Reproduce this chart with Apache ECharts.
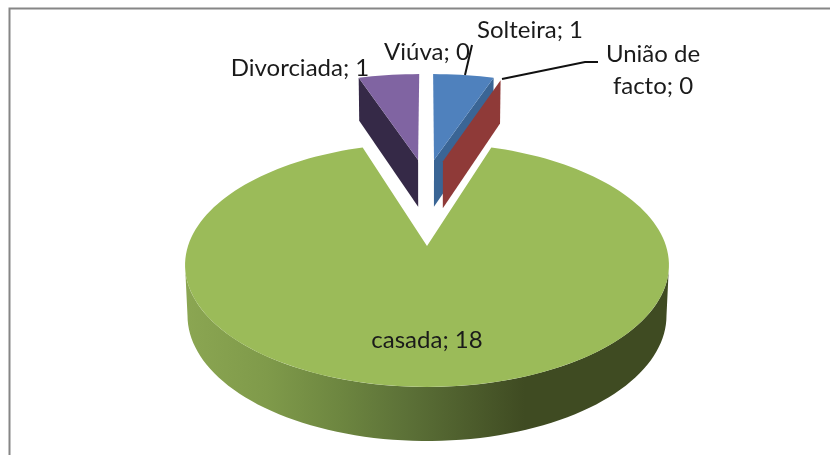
<!DOCTYPE html>
<html>
<head>
<meta charset="utf-8">
<style>
  html, body { margin: 0; padding: 0; background: #fff; }
  #chart { width: 830px; height: 455px; }
</style>
<script src="https://cdn.jsdelivr.net/npm/echarts@6/dist/echarts.min.js"></script>
</head>
<body>
<div id="chart"></div>
<script>
// dados
const categories = ['Viúva', 'Solteira', 'União de\nfacto', 'casada', 'Divorciada'];
const values = [0, 1, 0, 18, 1];
// the pie starts at Solteira, Viúva closes the circle
const drawOrder = [1, 2, 3, 4, 0];

const topColors = { Viúva: '#4bacc6', Solteira: '#4f81bd', 'União de\nfacto': '#c0504d', casada: '#9bbb59', Divorciada: '#8064a2' };
const wallColors = { Viúva: '#2f6b7b', Solteira: '#3a6595', 'União de\nfacto': '#8f3a38', casada: '#6a8040', Divorciada: '#352947' };
// slice apex on the pie plane (unit radius)
const apex = { Viúva: [0.033, 0.814], Solteira: [0.033, 0.814], 'União de\nfacto': [0.075, 0.80], casada: [0, 0], Divorciada: [-0.042, 0.814] };
const sliceRadius = { Viúva: 1.05, Solteira: 1.05, 'União de\nfacto': 1.03, casada: 1, Divorciada: 1.05 };
// label centres
const labelPos = { Viúva: [427, 52], Solteira: [530, 30], 'União de\nfacto': [653, 70], casada: [427, 340], Divorciada: [300, 68] };

// perspective of the pie plane, h = 0 top face, h = 1 bottom face
const cam = { cx: 427, cy: 246, a: 119, b: 239, k: 0.1557, m: 0.03, mx: 0.01, d: 51.5 };
function project(u, v, h) {
  const wy = 1 + cam.k * v + cam.m * h;
  const wx = 1 + cam.k * v + cam.mx * h;
  return [cam.cx + cam.b * u / wx, cam.cy + (-cam.a * v + cam.d * h) / wy];
}
function onRim(name, deg, h) {
  const t = deg * Math.PI / 180, o = apex[name], r = sliceRadius[name];
  return project(o[0] + r * Math.sin(t), o[1] + r * Math.cos(t), h);
}
function arc(name, from, to, h) {
  const pts = [], n = Math.max(1, Math.ceil(Math.abs(to - from) / 2));
  for (let i = 0; i <= n; i++) pts.push(onRim(name, from + (to - from) * i / n, h));
  return pts;
}
function poly(points, fill) {
  return { type: 'polygon', shape: { points }, style: { fill } };
}

const total = values.reduce((s, x) => s + x, 0);
const angles = {};
let acc = 0;
drawOrder.forEach((i) => {
  const start = acc / total * 360;
  acc += values[i];
  angles[categories[i]] = [start, acc / total * 360];
});

function renderSlice(params, api) {
  const name = categories[api.value(0)];
  const [a0, a1] = angles[name];
  const o = apex[name];
  const kids = [];

  // cut faces that look to the front
  const cut = (deg) => {
    kids.push(poly([project(o[0], o[1], 0), onRim(name, deg, 0), onRim(name, deg, 1), project(o[0], o[1], 1)], wallColors[name]));
  };
  if (a0 > 180 && a0 < 360) cut(a0);
  if (a1 > 0 && a1 < 180) cut(a1);

  // outer wall of the big slice, between the two silhouette points
  if (a1 - a0 > 180) {
    const wall = arc(name, 99, 261, 0).concat(arc(name, 261, 99, 1));
    kids.push({
      type: 'polygon',
      shape: { points: wall },
      style: {
        fill: new echarts.graphic.LinearGradient(185, 0, 670, 0, [
          { offset: 0, color: '#8ba652' },
          { offset: 0.17, color: '#7f9a4a' },
          { offset: 0.32, color: '#6d8640' },
          { offset: 0.45, color: '#5d7238' },
          { offset: 0.7, color: '#3f4b22' },
          { offset: 1, color: '#3f4b22' }
        ], true)
      }
    });
  }
  // top face
  if (a1 > a0) {
    kids.push(poly([project(o[0], o[1], 0)].concat(arc(name, a0, a1, 0)), topColors[name]));
  }
  return { type: 'group', children: kids };
}

const chart = echarts.init(document.getElementById('chart'), null, { renderer: 'canvas' });
chart.setOption({
  backgroundColor: '#ffffff',
  animation: false,
  textStyle: { fontFamily: 'Lato' },
  graphic: [
    // moldura
    { type: 'polyline', shape: { points: [[9.5, 456], [9.5, 8.5], [831, 8.5]] }, style: { stroke: '#868686', lineWidth: 2, fill: null } },
    // linhas de chamada
    { type: 'polyline', z: 5, shape: { points: [[472, 45], [465, 75]] }, style: { stroke: '#111', lineWidth: 2, fill: null } },
    { type: 'polyline', z: 5, shape: { points: [[598, 62], [585, 62], [502, 79]] }, style: { stroke: '#111', lineWidth: 2, fill: null } }
  ],
  series: [
    {
      type: 'custom',
      coordinateSystem: 'none',
      renderItem: renderSlice,
      data: drawOrder.map((i) => [i, values[i]]),
      silent: true
    },
    {
      type: 'custom',
      coordinateSystem: 'none',
      z: 6,
      silent: true,
      data: categories.map((c, i) => [i, values[i]]),
      renderItem: (params, api) => {
        const name = categories[api.value(0)];
        return {
          type: 'text',
          x: labelPos[name][0],
          y: labelPos[name][1],
          style: {
            text: name + '; ' + api.value(1),
            font: '24px Lato',
            fill: '#1a1a1a',
            align: 'center',
            verticalAlign: 'middle',
            lineHeight: 32
          }
        };
      }
    }
  ]
});
</script>
</body>
</html>
